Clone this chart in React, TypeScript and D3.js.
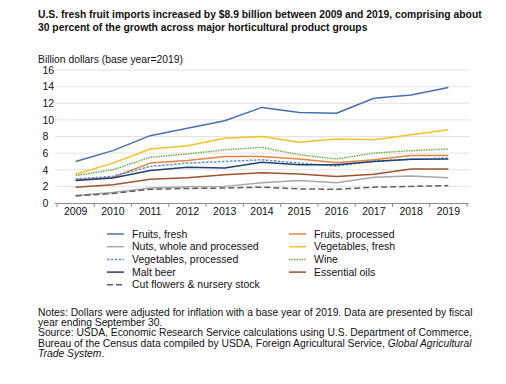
import { useEffect, useRef } from "react";
import * as d3 from "d3";

const W = 506, H = 384;
const FONT = "'Liberation Sans', Arial, Helvetica, sans-serif";

const years = ["2009", "2010", "2011", "2012", "2013", "2014", "2015", "2016", "2017", "2018", "2019"];
const yTicks = [0, 2, 4, 6, 8, 10, 12, 14, 16];

const fruitsFresh = [5.0, 6.3, 8.1, 9.0, 9.9, 11.5, 10.9, 10.8, 12.6, 13.0, 13.9];
const fruitsProcessed = [2.8, 3.1, 4.8, 5.1, 5.6, 5.6, 5.3, 4.85, 5.2, 5.7, 5.7];
const nuts = [0.9, 1.25, 1.8, 1.95, 2.0, 2.45, 2.7, 2.45, 3.1, 3.25, 3.05];
const vegFresh = [3.45, 4.8, 6.5, 6.9, 7.8, 8.0, 7.3, 7.7, 7.6, 8.2, 8.8];
const vegProcessed = [2.9, 3.2, 4.4, 4.8, 5.0, 5.2, 4.8, 4.45, 5.05, 5.25, 5.4];
const wine = [3.3, 4.0, 5.5, 5.9, 6.4, 6.7, 5.8, 5.3, 6.0, 6.3, 6.5];
const maltBeer = [2.7, 3.0, 3.9, 4.3, 4.2, 4.9, 4.6, 4.6, 5.0, 5.25, 5.3];
const essentialOils = [1.9, 2.2, 2.85, 3.05, 3.4, 3.65, 3.5, 3.2, 3.45, 4.1, 4.1];
const cutFlowers = [0.85, 1.15, 1.65, 1.75, 1.8, 1.9, 1.7, 1.65, 1.9, 2.0, 2.1];

const series = [
  { name: "Fruits, fresh", values: fruitsFresh, color: "#4a6fb0", dash: "" },
  { name: "Fruits, processed", values: fruitsProcessed, color: "#e8823c", dash: "" },
  { name: "Nuts, whole and processed", values: nuts, color: "#a8a8a8", dash: "" },
  { name: "Vegetables, fresh", values: vegFresh, color: "#f4c02c", dash: "" },
  { name: "Vegetables, processed", values: vegProcessed, color: "#5b8fd0", dash: "2.5,1.5" },
  { name: "Wine", values: wine, color: "#6fab46", dash: "1.5,1" },
  { name: "Malt beer", values: maltBeer, color: "#23406f", dash: "" },
  { name: "Essential oils", values: essentialOils, color: "#a0522d", dash: "" },
  { name: "Cut flowers & nursery stock", values: cutFlowers, color: "#5e5e5e", dash: "6,3" },
];

const titleLines = [
  "U.S. fresh fruit imports increased by $8.9 billion between 2009 and 2019, comprising about",
  "30 percent of the growth across major horticultural product groups",
];
const noteLines = [
  "Notes: Dollars were adjusted for inflation with a base year of 2019. Data are presented by fiscal",
  "year ending September 30.",
  "Source: USDA, Economic Research Service calculations using U.S. Department of Commerce,",
];

export default function App() {
  const ref = useRef<SVGSVGElement>(null);

  useEffect(() => {
    const svg = d3.select(ref.current!);
    svg.selectAll("*").remove();

    // find a font size so that a text spans the width seen in the reference
    const fit = (txt: string, weight: string, size: number, target: number) => {
      const t = svg.append("text").attr("font-family", FONT).attr("font-size", size)
        .attr("font-weight", weight).text(txt);
      const w = (t.node() as SVGTextElement).getComputedTextLength();
      t.remove();
      return w > 0 ? size * target / w : size;
    };
    const titleSize = fit(titleLines[0], "bold", 11.5, 444);
    const noteSize = fit(noteLines[0], "normal", 10, 435);
    const unitSize = fit("Billion dollars (base year=2019)", "normal", 10.5, 145);

    const x = d3.scaleBand<string>().domain(years).range([57, 467]);
    const y = d3.scaleLinear().domain([0, 16]).range([203, 70]);
    const cx = (yr: string) => x(yr)! + x.bandwidth() / 2;

    // title
    svg.selectAll("text.title").data(titleLines).join("text")
      .attr("x", 38).attr("y", (_, i) => 18 + i * 13)
      .attr("font-family", FONT).attr("font-size", titleSize).attr("font-weight", "bold")
      .attr("fill", "#111").text((d) => d);

    svg.append("text").attr("x", 38).attr("y", 63)
      .attr("font-family", FONT).attr("font-size", unitSize).attr("fill", "#111")
      .text("Billion dollars (base year=2019)");

    // grid
    const g = svg.append("g");
    g.selectAll("line.grid").data(yTicks.filter((t) => t > 0)).join("line")
      .attr("x1", 55).attr("x2", 470)
      .attr("y1", (d) => y(d)).attr("y2", (d) => y(d))
      .attr("stroke", "#e3e3e3").attr("stroke-width", 1);

    g.selectAll("text.ytick").data(yTicks).join("text")
      .attr("x", 42.5).attr("y", (d) => y(d) + 3.8)
      .attr("font-family", FONT).attr("font-size", 10.5).attr("fill", "#111")
      .text((d) => d);

    // x axis
    g.append("line").attr("x1", 55).attr("x2", 469).attr("y1", 203.5).attr("y2", 203.5)
      .attr("stroke", "#8c8c8c").attr("stroke-width", 1);
    const bounds = years.map((yr) => x(yr)!).concat([x.range()[1]]);
    g.selectAll("line.xtick").data(bounds).join("line")
      .attr("x1", (d) => d).attr("x2", (d) => d).attr("y1", 203.5).attr("y2", 207)
      .attr("stroke", "#8c8c8c");
    g.selectAll("text.xlab").data(years).join("text")
      .attr("x", (d) => cx(d)).attr("y", 215).attr("text-anchor", "middle")
      .attr("font-family", FONT).attr("font-size", 10.5).attr("fill", "#111")
      .text((d) => d);

    // lines
    const line = d3.line<number>().x((_, i) => cx(years[i])).y((d) => y(d));
    svg.append("g").selectAll("path").data(series).join("path")
      .attr("d", (s) => line(s.values))
      .attr("fill", "none").attr("stroke", (s) => s.color)
      .attr("stroke-width", 1.5).attr("stroke-dasharray", (s) => s.dash || null)
      .attr("stroke-linejoin", "round");

    // legend
    const leg = svg.append("g").selectAll("g").data(series).join("g")
      .attr("transform", (_, i) => `translate(${i % 2 === 0 ? 107 : 289},${234 + Math.floor(i / 2) * 12.7})`);
    leg.append("line").attr("x1", 0).attr("x2", 17).attr("y1", 0).attr("y2", 0)
      .attr("stroke", (s) => s.color).attr("stroke-width", 1.5)
      .attr("stroke-dasharray", (s) => s.dash || null);
    leg.append("text").attr("x", 25).attr("y", 3.6)
      .attr("font-family", FONT).attr("font-size", 10.5).attr("fill", "#111")
      .text((s) => s.name);

    // notes
    svg.selectAll("text.note").data(noteLines).join("text")
      .attr("x", 38).attr("y", (_, i) => 316 + i * 10.2)
      .attr("font-family", FONT).attr("font-size", noteSize).attr("fill", "#111")
      .text((d) => d);
    const l4 = svg.append("text").attr("x", 38).attr("y", 346.6)
      .attr("font-family", FONT).attr("font-size", noteSize).attr("fill", "#111");
    l4.append("tspan").text("Bureau of the Census data compiled by USDA, Foreign Agricultural Service, ");
    l4.append("tspan").attr("font-style", "italic").text("Global Agricultural");
    const l5 = svg.append("text").attr("x", 38).attr("y", 356.8)
      .attr("font-family", FONT).attr("font-size", noteSize).attr("fill", "#111");
    l5.append("tspan").attr("font-style", "italic").text("Trade System");
    l5.append("tspan").text(".");
  }, []);

  return (
    <svg ref={ref} width={W} height={H}
      style={{ position: "absolute", left: 0, top: 0, background: "#fff" }} />
  );
}
